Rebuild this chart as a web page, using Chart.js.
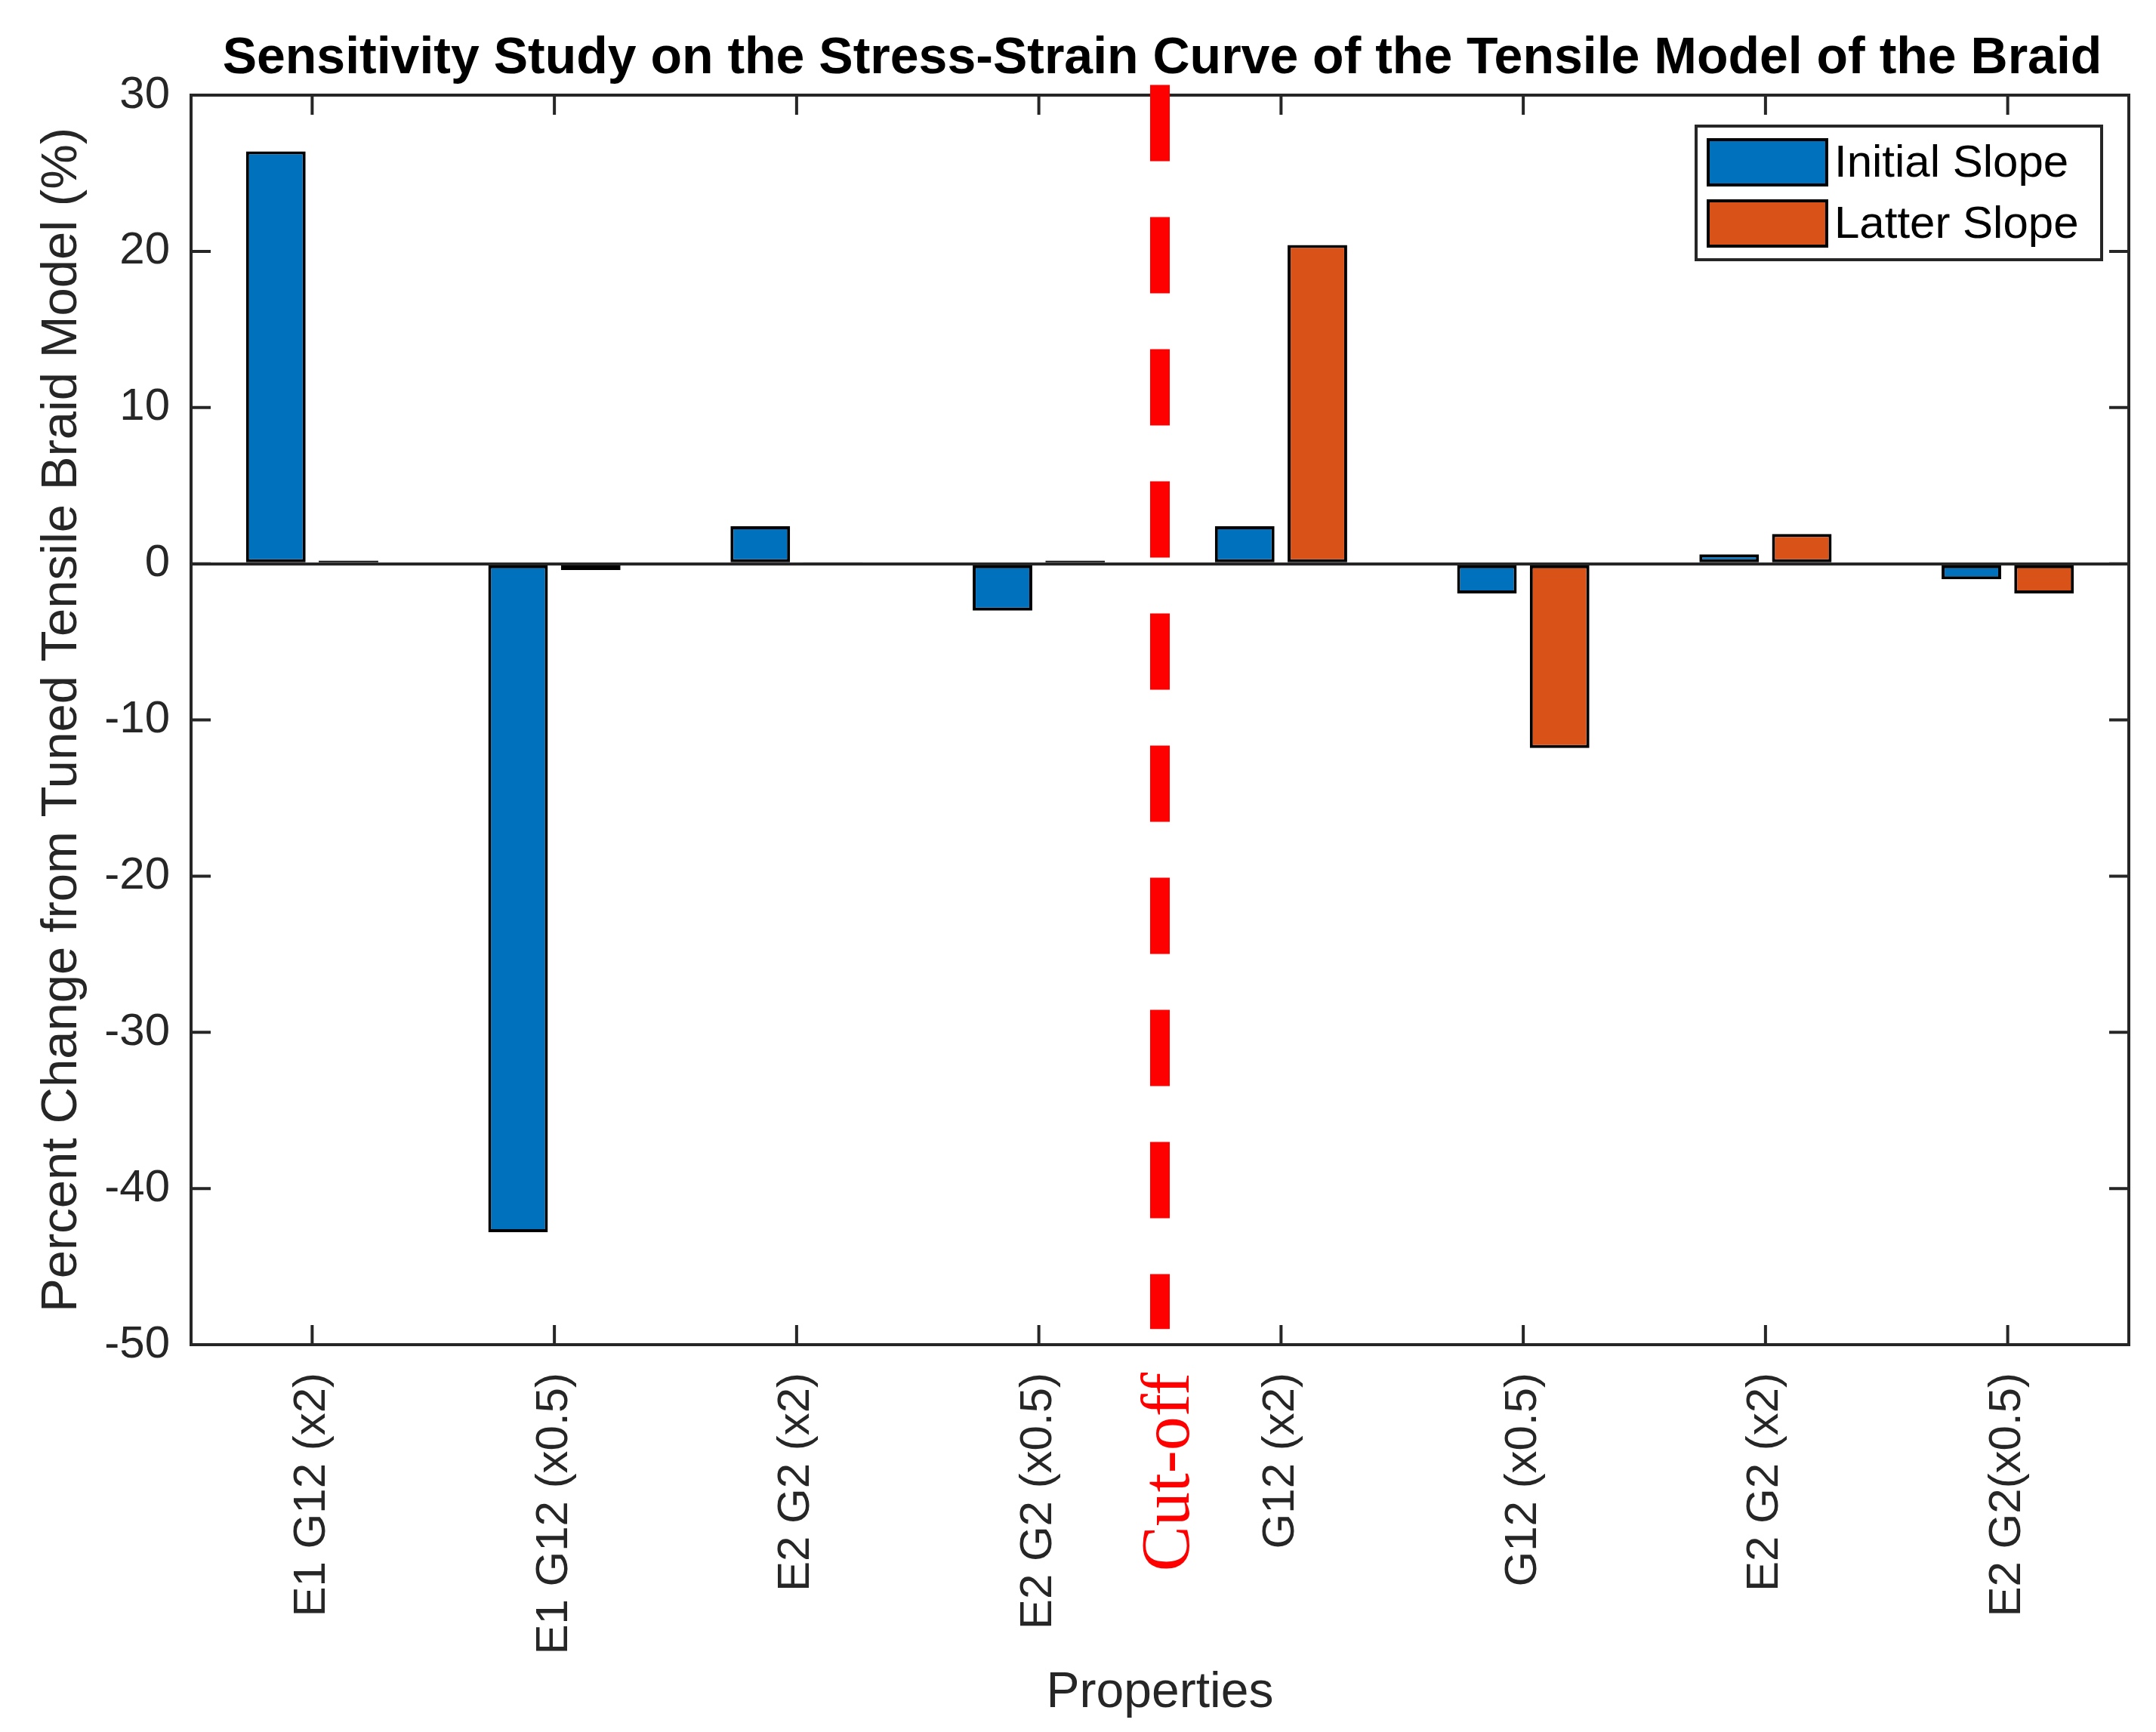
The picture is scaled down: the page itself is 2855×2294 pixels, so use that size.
<!DOCTYPE html>
<html lang="en">
<head>
<meta charset="UTF-8">
<title>Sensitivity Study on the Stress-Strain Curve</title>
<style>
    body {
        margin: 0;
        padding: 0;
        background-color: #ffffff;
    }
    .chart-container {
        width: 2855px;
        height: 2294px;
    }
</style>
</head>
<body>
<div class="chart-container"><canvas id="sensChart"></canvas></div>

<script src="https://cdn.jsdelivr.net/npm/chart.js"></script>
<script>
    // data
    const properties = ['E1 G12 (x2)', 'E1 G12 (x0.5)', 'E2 G2 (x2)', 'E2 G2 (x0.5)',
                        'G12 (x2)', 'G12 (x0.5)', 'E2 G2 (x2)', 'E2 G2(x0.5)'];
    const initialSlope = [26.4, -42.8, 2.4, -3.0, 2.4, -1.9, 0.6, -1.0];
    const latterSlope = [0.2, -0.4, 0.1, 0.2, 20.4, -11.8, 1.9, -1.9];
    const yTicks = [-50, -40, -30, -20, -10, 0, 10, 20, 30];
    const chartTitle = 'Sensitivity Study on the Stress-Strain Curve of the Tensile Model of the Braid';
    const cutoffLabel = 'Cut-off';
    const cutoffAfter = 4;        // dashed line sits between 4th and 5th property
    const cutoffTop = 30.65;      // y extent of the dashed line (data units)
    const cutoffBottom = -49;

    const fontFamily = '"Liberation Sans", Arial, sans-serif';
    const axisColor = '#262626';
    const tickLen = 26;

    // MATLAB style box, inward ticks, title, cut-off line and legend
    const matlabAxes = {
        id: 'matlabAxes',
        afterDatasetsDraw(chart) {
            const ctx = chart.ctx;
            const a = chart.chartArea;
            const x = chart.scales.x;
            const y = chart.scales.y;
            ctx.save();

            // title, centred over the axes
            ctx.fillStyle = '#000000';
            ctx.font = 'bold 68px ' + fontFamily;
            ctx.textAlign = 'center';
            ctx.textBaseline = 'alphabetic';
            ctx.fillText(chartTitle, (a.left + a.right) / 2 + 3, 97);

            // box
            ctx.strokeStyle = axisColor;
            ctx.lineWidth = 4;
            ctx.strokeRect(a.left, a.top, a.right - a.left, a.bottom - a.top);

            // inward ticks
            ctx.beginPath();
            x.ticks.forEach((t, i) => {
                const px = x.getPixelForTick(i);
                ctx.moveTo(px, a.bottom);
                ctx.lineTo(px, a.bottom - tickLen);
                ctx.moveTo(px, a.top);
                ctx.lineTo(px, a.top + tickLen);
            });
            y.ticks.forEach(t => {
                const py = y.getPixelForValue(t.value);
                ctx.moveTo(a.left, py);
                ctx.lineTo(a.left + tickLen, py);
                ctx.moveTo(a.right, py);
                ctx.lineTo(a.right - tickLen, py);
            });
            ctx.stroke();

            // cut-off dashed line
            const cx = (x.getPixelForTick(cutoffAfter - 1) + x.getPixelForTick(cutoffAfter)) / 2;
            ctx.strokeStyle = '#ff0000';
            ctx.lineWidth = 26;
            ctx.lineCap = 'butt';
            ctx.setLineDash([101, 74]);
            ctx.beginPath();
            ctx.moveTo(cx, y.getPixelForValue(cutoffTop));
            ctx.lineTo(cx, y.getPixelForValue(cutoffBottom));
            ctx.stroke();
            ctx.setLineDash([]);

            // legend
            const lw = 537, lh = 177;
            const lx = a.right - 36 - lw;
            const ly = a.top + 41;
            ctx.fillStyle = '#ffffff';
            ctx.fillRect(lx, ly, lw, lh);
            ctx.strokeStyle = axisColor;
            ctx.lineWidth = 4;
            ctx.strokeRect(lx, ly, lw, lh);
            chart.data.datasets.forEach((ds, i) => {
                const sy = ly + 18 + i * 81;
                ctx.fillStyle = ds.backgroundColor;
                ctx.fillRect(lx + 16, sy, 157, 60);
                ctx.strokeStyle = '#000000';
                ctx.lineWidth = 4;
                ctx.strokeRect(lx + 16, sy, 157, 60);
                ctx.fillStyle = '#000000';
                ctx.font = '60px ' + fontFamily;
                ctx.textAlign = 'left';
                ctx.textBaseline = 'middle';
                ctx.fillText(ds.label, lx + 183, sy + 32);
            });

            // cut-off label, sits with the tick labels
            ctx.translate(cx + 14, a.bottom + 37);
            ctx.rotate(-Math.PI / 2);
            ctx.fillStyle = '#ff0000';
            ctx.font = '90px "Liberation Serif", "Times New Roman", serif';
            ctx.textAlign = 'right';
            ctx.textBaseline = 'middle';
            ctx.fillText(cutoffLabel, 0, 0);

            ctx.restore();
        }
    };

    const ctx = document.getElementById('sensChart').getContext('2d');
    const chart = new Chart(ctx, {
        type: 'bar',
        data: {
            labels: properties,
            datasets: [{
                label: 'Initial Slope',
                data: initialSlope,
                backgroundColor: '#0072BD',
                borderColor: '#000000',
                borderWidth: 4,
                borderSkipped: false
            }, {
                label: 'Latter Slope',
                data: latterSlope,
                backgroundColor: '#D95319',
                borderColor: '#000000',
                borderWidth: 4,
                borderSkipped: false
            }]
        },
        options: {
            responsive: true,
            maintainAspectRatio: false,
            devicePixelRatio: 1,
            animation: false,
            datasets: {
                bar: {
                    categoryPercentage: 0.6,
                    barPercentage: 0.82
                }
            },
            layout: {
                padding: { left: 0, right: 36, top: 126, bottom: 0 }
            },
            plugins: {
                legend: { display: false },
                tooltip: { enabled: false },
                title: { display: false }
            },
            scales: {
                x: {
                    type: 'category',
                    offset: true,
                    grid: { display: false, drawTicks: false },
                    border: { display: false },
                    ticks: {
                        autoSkip: false,
                        maxRotation: 90,
                        minRotation: 90,
                        padding: 37,
                        color: axisColor,
                        font: { family: fontFamily, size: 60 }
                    },
                    title: {
                        display: true,
                        text: 'Properties',
                        color: axisColor,
                        font: { family: fontFamily, size: 66 },
                        padding: { top: 0, bottom: 12 }
                    },
                    afterFit: scale => { scale.height = 513; }
                },
                y: {
                    min: -50,
                    max: 30,
                    afterBuildTicks: scale => {
                        scale.ticks = yTicks.map(v => ({ value: v }));
                    },
                    grid: {
                        drawTicks: false,
                        lineWidth: 4,
                        color: c => (c.tick && c.tick.value === 0) ? axisColor : 'rgba(0,0,0,0)'
                    },
                    border: { display: false },
                    ticks: {
                        padding: 28,
                        color: axisColor,
                        font: { family: fontFamily, size: 60 }
                    },
                    title: {
                        display: true,
                        text: 'Percent Change from Tuned Tensile Braid Model (%)',
                        color: axisColor,
                        font: { family: fontFamily, size: 67 },
                        padding: { top: 42, bottom: 0 }
                    },
                    afterFit: scale => { scale.width = 253; }
                }
            }
        },
        plugins: [matlabAxes]
    });
</script>
</body>
</html>
